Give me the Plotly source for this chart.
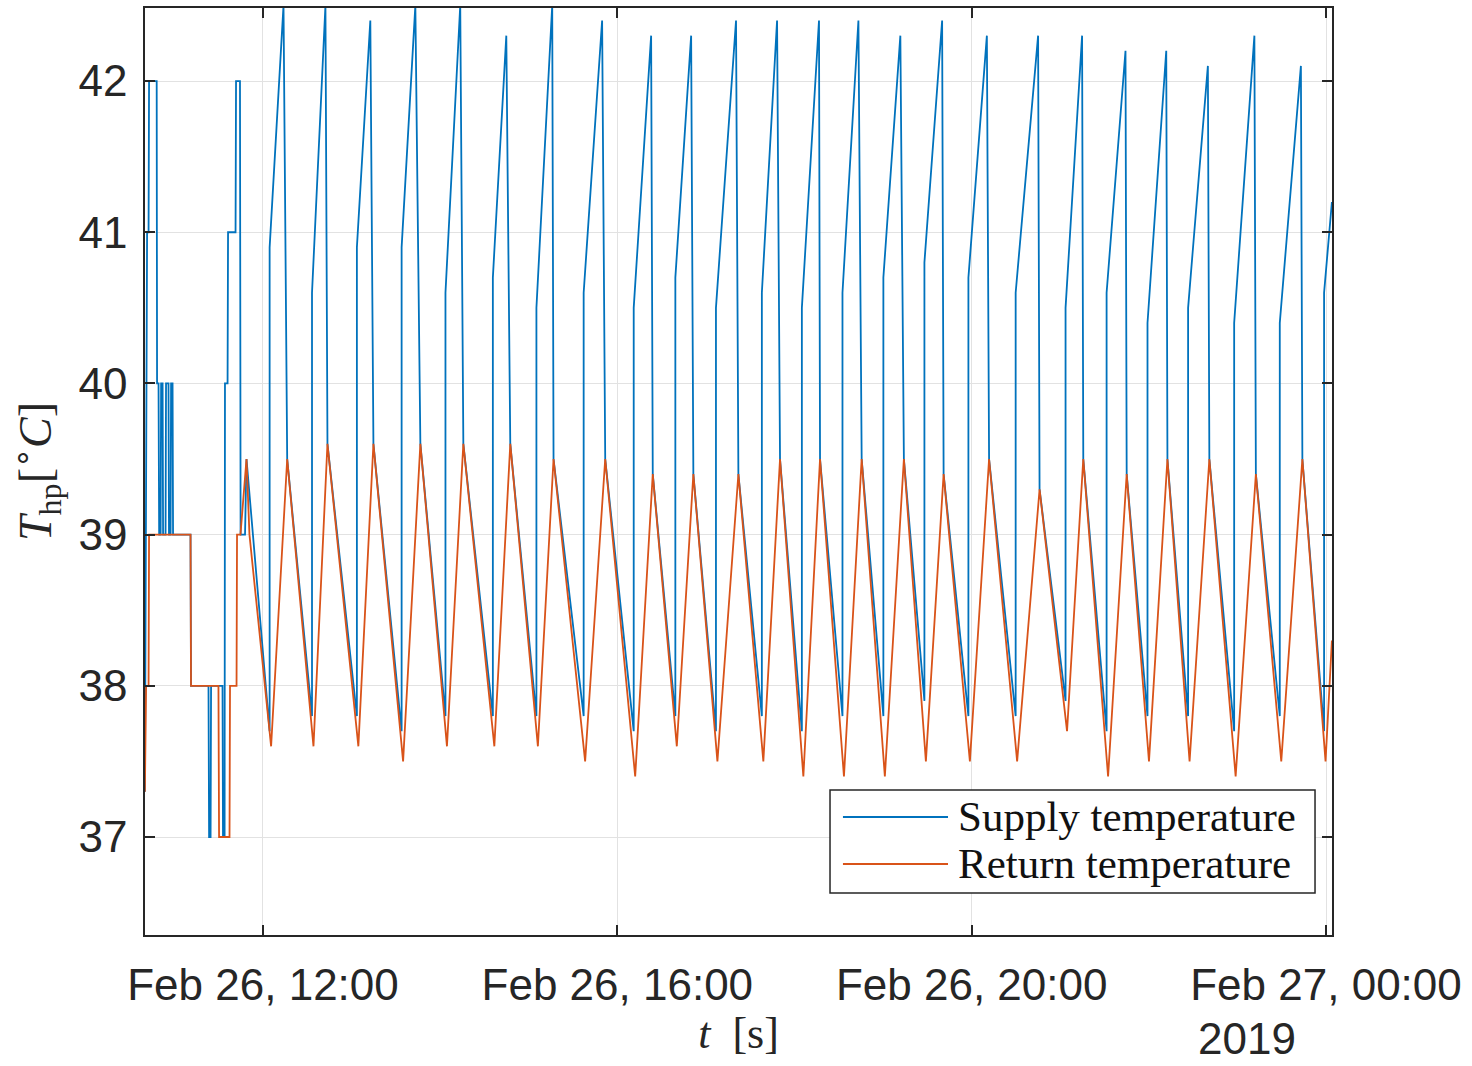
import plotly.graph_objects as go

DAY1 = "2019-02-26"
DAY2 = "2019-02-27"

# ---------------- data ----------------
# start-up phase (step-like sensor values)
early_supply_t = ["10:40:00", "10:40:50", "10:41:30", "10:42:30", "10:42:50", "10:48:00", "10:48:15",
                  "10:49:15", "10:49:40", "10:50:40", "10:51:00", "10:52:00", "10:52:20", "10:54:00",
                  "10:54:20", "10:56:00", "10:56:20", "10:57:25", "10:57:45", "10:58:45", "10:59:05",
                  "11:10:55", "11:11:15", "11:23:05", "11:23:30", "11:24:30", "11:24:50", "11:32:35",
                  "11:32:55", "11:34:00", "11:34:15", "11:36:00", "11:36:20", "11:41:25", "11:41:45",
                  "11:44:25", "11:44:50", "11:47:50", "11:48:50"]
early_supply_v = [37.3, 40, 41, 41, 42, 42, 40, 40, 39, 39, 40, 40, 39, 39, 40, 40, 39, 39, 40, 40, 39,
                  39, 38, 38, 37, 37, 38, 38, 37, 37, 40, 40, 41, 41, 42, 42, 39, 39, 39.5]

early_return_t = ["10:40:00", "10:40:50", "10:42:30", "10:42:50", "11:10:55", "11:11:15", "11:29:50",
                  "11:30:15", "11:37:20", "11:37:40", "11:42:05", "11:42:25", "11:44:45", "11:48:50",
                  "11:50:50"]
early_return_v = [37.3, 38, 38, 39, 39, 38, 38, 37, 37, 38, 38, 39, 39, 39.5, 39.0]

# cyclic operation: return temperature troughs / peaks
return_trough_t = ["12:05:30", "12:34:12", "13:04:36", "13:34:54", "14:04:36", "14:36:42", "15:06:12",
                   "15:38:12", "16:12:06", "16:40:18", "17:07:48", "17:38:54", "18:06:00", "18:33:30",
                   "19:01:12", "19:29:00", "19:58:48", "20:30:48", "21:04:36", "21:32:24", "22:00:06",
                   "22:27:36", "22:58:48", "23:29:42", "23:59:42"]
return_trough_v = [37.6, 37.6, 37.6, 37.5, 37.6, 37.6, 37.6, 37.5, 37.4, 37.6, 37.5, 37.5, 37.4, 37.4,
                   37.4, 37.5, 37.5, 37.5, 37.7, 37.4, 37.5, 37.5, 37.4, 37.5, 37.5]

return_peak_t = ["12:16:24", "12:43:40", "13:14:48", "13:46:36", "14:15:42", "14:47:30", "15:16:48",
                 "15:51:48", "16:24:00", "16:51:30", "17:22:00", "17:50:12", "18:17:18", "18:45:30",
                 "19:14:06", "19:41:00", "20:11:48", "20:46:00", "21:15:36", "21:45:00", "22:12:36",
                 "22:41:00", "23:12:30", "23:44:00"]
return_peak_v = [39.5, 39.6, 39.6, 39.6, 39.6, 39.6, 39.5, 39.5, 39.4, 39.4, 39.4, 39.5, 39.5, 39.5,
                 39.5, 39.4, 39.5, 39.3, 39.5, 39.4, 39.5, 39.5, 39.4, 39.5]

# supply temperature: jump when the heat pump starts, then rise to the peak
supply_jump_t = ["12:04:30", "12:33:12", "13:03:36", "13:33:54", "14:03:36", "14:35:42", "15:05:12",
                 "15:37:12", "16:11:06", "16:39:18", "17:06:48", "17:37:54", "18:05:00", "18:32:30",
                 "19:00:12", "19:28:00", "19:57:48", "20:29:48", "21:03:36", "21:31:24", "21:59:06",
                 "22:26:36", "22:57:48", "23:28:42", "23:58:42"]
supply_min_v = [37.7, 37.8, 37.8, 37.7, 37.8, 37.8, 37.8, 37.8, 37.7, 37.8, 37.7, 37.8, 37.7, 37.8,
                37.8, 37.9, 37.8, 37.8, 37.9, 37.7, 37.8, 37.8, 37.7, 37.8, 37.7]
supply_jump_v = [40.9, 40.6, 40.9, 40.9, 40.6, 40.7, 40.5, 40.6, 40.5, 40.7, 40.5, 40.6, 40.5, 40.6,
                 40.7, 40.8, 40.7, 40.6, 40.5, 40.6, 40.4, 40.5, 40.4, 40.4, 40.6]

supply_peak_t = ["12:13:54", "12:42:18", "13:12:42", "13:43:12", "14:13:36", "14:44:48", "15:15:54",
                 "15:49:42", "16:22:54", "16:50:00", "17:20:24", "17:48:12", "18:16:36", "18:43:18",
                 "19:11:42", "19:40:00", "20:10:18", "20:45:00", "21:14:48", "21:44:12", "22:11:48",
                 "22:40:00", "23:11:30", "23:43:00"]
supply_peak_v = [42.5, 42.5, 42.4, 42.5, 42.5, 42.3, 42.5, 42.4, 42.3, 42.3, 42.4, 42.4, 42.4, 42.4,
                 42.3, 42.4, 42.3, 42.3, 42.3, 42.2, 42.2, 42.1, 42.3, 42.1]

end_t = "00:04:00"
supply_end_v = 41.2
return_end_v = 38.3

x_range = [f"{DAY1} 10:40:05", f"{DAY2} 00:04:04"]
tick_vals = [f"{DAY1} 12:00", f"{DAY1} 16:00", f"{DAY1} 20:00", f"{DAY2} 00:00"]
tick_text = ["Feb 26, 12:00", "Feb 26, 16:00", "Feb 26, 20:00", "Feb 27, 00:00"]
y_ticks = [37, 38, 39, 40, 41, 42]
y_range = [36.352, 42.483]


def d1(t):
    return f"{DAY1} {t}"


# ---------------- build the series ----------------
sx = [d1(t) for t in early_supply_t]
sy = list(early_supply_v)
for i in range(len(supply_peak_t)):
    sx += [d1(supply_jump_t[i]), d1(supply_jump_t[i]), d1(supply_peak_t[i]), d1(return_peak_t[i])]
    sy += [supply_min_v[i], supply_jump_v[i], supply_peak_v[i], return_peak_v[i]]
sx += [d1(supply_jump_t[-1]), d1(supply_jump_t[-1]), f"{DAY2} {end_t}"]
sy += [supply_min_v[-1], supply_jump_v[-1], supply_end_v]

rx = [d1(t) for t in early_return_t]
ry = list(early_return_v)
for i in range(len(return_peak_t)):
    rx += [d1(return_trough_t[i]), d1(return_peak_t[i])]
    ry += [return_trough_v[i], return_peak_v[i]]
rx += [d1(return_trough_t[-1]), f"{DAY2} {end_t}"]
ry += [return_trough_v[-1], return_end_v]

BLUE = "#0072BD"
ORANGE = "#D95319"
AX = "#262626"

fig = go.Figure()
fig.add_trace(go.Scatter(x=sx, y=sy, mode="lines", name="Supply temperature",
                         line=dict(color=BLUE, width=1.8)))
fig.add_trace(go.Scatter(x=rx, y=ry, mode="lines", name="Return temperature",
                         line=dict(color=ORANGE, width=1.8)))

tickfont = dict(family="Liberation Sans, Arial, sans-serif", size=44, color=AX)
serif = "Liberation Serif, Times New Roman, serif"

fig.update_layout(
    width=1472, height=1066,
    margin=dict(l=145, r=140, t=8, b=131),
    plot_bgcolor="white", paper_bgcolor="white",
    showlegend=False,
    xaxis=dict(
        type="date", range=x_range, tickvals=tick_vals, ticktext=tick_text,
        showgrid=True, gridcolor="#e2e2e2", gridwidth=1,
        ticks="inside", ticklen=10, tickwidth=1.5, tickcolor=AX,
        showline=True, linecolor=AX, linewidth=1.5, mirror="ticks",
        tickfont=tickfont, ticklabelstandoff=10, zeroline=False, automargin=False,
        title=dict(text="<i>t</i>  [s]", font=dict(family=serif, size=44, color=AX), standoff=2),
    ),
    yaxis=dict(
        range=y_range, tickvals=y_ticks,
        showgrid=True, gridcolor="#e2e2e2", gridwidth=1,
        ticks="inside", ticklen=10, tickwidth=1.5, tickcolor=AX,
        showline=True, linecolor=AX, linewidth=1.5, mirror="ticks",
        tickfont=tickfont, ticklabelstandoff=7, zeroline=False, automargin=False,
        title=dict(text="<i>T</i><sub>hp</sub>[<sup>∘</sup><i>C</i>]",
                   font=dict(family=serif, size=46, color=AX), standoff=12),
    ),
)

# secondary date label under the last tick (as MATLAB draws it)
fig.add_annotation(x=tick_vals[-1], xref="x", y=-0.1405, yref="paper", text="2019",
                   showarrow=False, xanchor="left", yanchor="bottom", xshift=-130,
                   font=tickfont)

# legend box drawn as in the reference
fig.add_shape(type="rect", xref="paper", yref="paper", x0=0.5771, x1=0.9857, y0=0.0453, y1=0.1564,
              line=dict(color=AX, width=1.5), fillcolor="white", layer="above")
fig.add_shape(type="line", xref="paper", yref="paper", x0=0.588, x1=0.6765, y0=0.1273, y1=0.1273,
              line=dict(color=BLUE, width=1.8), layer="above")
fig.add_shape(type="line", xref="paper", yref="paper", x0=0.588, x1=0.6765, y0=0.0766, y1=0.0766,
              line=dict(color=ORANGE, width=1.8), layer="above")
fig.add_annotation(x=0.6835, y=0.1273, xref="paper", yref="paper", text="Supply temperature",
                   showarrow=False, xanchor="left", yanchor="middle",
                   font=dict(family=serif, size=43, color="#111111"))
fig.add_annotation(x=0.6835, y=0.0766, xref="paper", yref="paper", text="Return temperature",
                   showarrow=False, xanchor="left", yanchor="middle",
                   font=dict(family=serif, size=43, color="#111111"))

fig.write_html("out.html")
